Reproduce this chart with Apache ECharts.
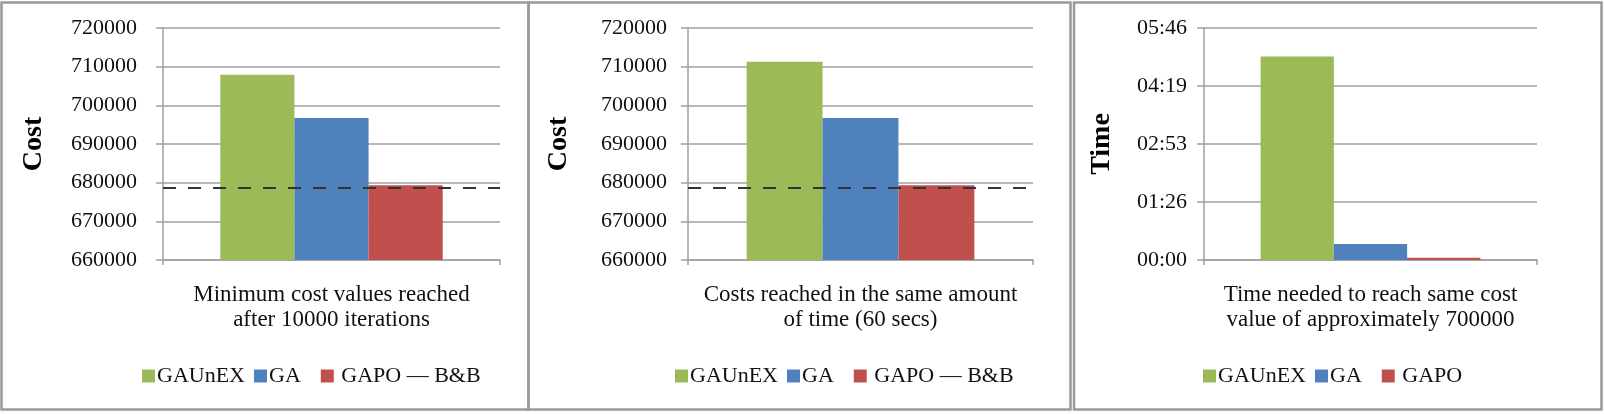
<!DOCTYPE html>
<html>
<head>
<meta charset="utf-8">
<script src="https://cdn.jsdelivr.net/npm/echarts@6/dist/echarts.min.js"></script>
<style>
html,body{margin:0;padding:0;background:#fff;}
#c{width:1604px;height:414px;}
</style>
</head>
<body>
<div id="c"></div>
<script>
// ---- data ----
const cat1 = ['Minimum cost values reached\nafter 10000 iterations'];
const cat2 = ['Costs reached in the same amount\nof time (60 secs)'];
const cat3 = ['Time needed to reach same cost\nvalue of approximately 700000'];
const namesCost = ['GAUnEX', 'GA', 'GAPO — B&B'];
const namesTime = ['GAUnEX', 'GA', 'GAPO'];
const costAfterIterations = [707900, 696700, 679300];
const costSameTime = [711300, 696700, 679300];
const timeToReachSec = [303, 24, 3.4];
const referenceCost = 678700;
const costMin = 660000, costMax = 720000, costStep = 10000;
const timeMin = 0, timeMax = 345.6, timeStep = 86.4;
const colors = ['#9BBB59', '#4F81BD', '#C0504D'];

const FONT = '"Liberation Serif", "Times New Roman", serif';

function fmtTime(v) {
  const s = Math.round(v);
  const m = Math.floor(s / 60), r = s % 60;
  return String(m).padStart(2, '0') + ':' + String(r).padStart(2, '0');
}

const grids = [
  { left: 163, top: 28, width: 337, height: 232 },
  { left: 688, top: 28, width: 345, height: 232 },
  { left: 1204, top: 28, width: 333, height: 232 }
];

function xAxis(idx, data) {
  return {
    type: 'category', gridIndex: idx, data: data,
    axisLine: { lineStyle: { color: '#a0a0a0', width: 1.5 } },
    axisTick: { show: true, length: 5, lineStyle: { color: '#a0a0a0', width: 1.5 } },
    axisLabel: { interval: 0, color: '#111', fontFamily: FONT, fontSize: 23, lineHeight: 25, margin: 22 }
  };
}
function yAxis(idx, name, min, max, step, margin, nameGap, fmt) {
  return {
    type: 'value', gridIndex: idx, min: min, max: max, interval: step,
    name: name, nameLocation: 'middle', nameGap: nameGap, nameRotate: 90,
    nameTextStyle: { fontFamily: FONT, fontSize: 28, fontWeight: 'bold', color: '#000' },
    axisLine: { show: true, lineStyle: { color: '#a0a0a0', width: 1.5 } },
    axisTick: { show: true, length: 7, lineStyle: { color: '#a0a0a0', width: 1.5 } },
    splitLine: { show: true, lineStyle: { color: '#a0a0a0', width: 1.5 } },
    axisLabel: { color: '#111', fontFamily: FONT, fontSize: 22, margin: margin, formatter: fmt }
  };
}

function barSeries(idx, names, values, withRef) {
  return names.map((n, i) => {
    const s = {
      type: 'bar', name: n, xAxisIndex: idx, yAxisIndex: idx,
      data: [values[i]], barGap: '0%', barCategoryGap: '34%',
      itemStyle: { color: colors[i] }
    };
    if (withRef && i === 0) {
      s.markLine = {
        silent: true, symbol: 'none', label: { show: false },
        lineStyle: { color: '#333', width: 2, type: [13, 12] },
        data: [{ yAxis: referenceCost }], z: 10
      };
    }
    return s;
  });
}

function legend(left, names) {
  return {
    left: left, top: 360, data: names, icon: 'rect', itemWidth: 13, itemHeight: 13, itemGap: 9,
    formatter: n => n === 'GA' ? 'GA  ' : (n.indexOf('GAPO') === 0 ? ' ' + n : n),
    textStyle: { fontFamily: FONT, fontSize: 22, color: '#111', padding: [0, 0, 0, -3] }
  };
}

const borderStyle = { stroke: '#9a9a9a', fill: 'none', lineWidth: 2.5 };

const option = {
  animation: false,
  grid: grids,
  xAxis: [xAxis(0, cat1), xAxis(1, cat2), xAxis(2, cat3)],
  yAxis: [
    yAxis(0, 'Cost', costMin, costMax, costStep, 26, 115, v => String(v)),
    yAxis(1, 'Cost', costMin, costMax, costStep, 21, 115, v => String(v)),
    yAxis(2, 'Time', timeMin, timeMax, timeStep, 17, 88, v => fmtTime(v))
  ],
  legend: [legend(137, namesCost), legend(670, namesCost), legend(1198, namesTime)],
  series: [].concat(
    barSeries(0, namesCost, costAfterIterations, true),
    barSeries(1, namesCost, costSameTime, true),
    barSeries(2, namesTime, timeToReachSec, false)
  ),
  graphic: [
    { type: 'rect', shape: { x: 1.5, y: 2.5, width: 527, height: 407 }, style: borderStyle, silent: true },
    { type: 'rect', shape: { x: 528.5, y: 2.5, width: 542, height: 407 }, style: borderStyle, silent: true },
    { type: 'rect', shape: { x: 1074, y: 2.5, width: 527.5, height: 407 }, style: borderStyle, silent: true }
  ]
};

const chart = echarts.init(document.getElementById('c'), null, { renderer: 'canvas' });
chart.setOption(option);
</script>
</body>
</html>
